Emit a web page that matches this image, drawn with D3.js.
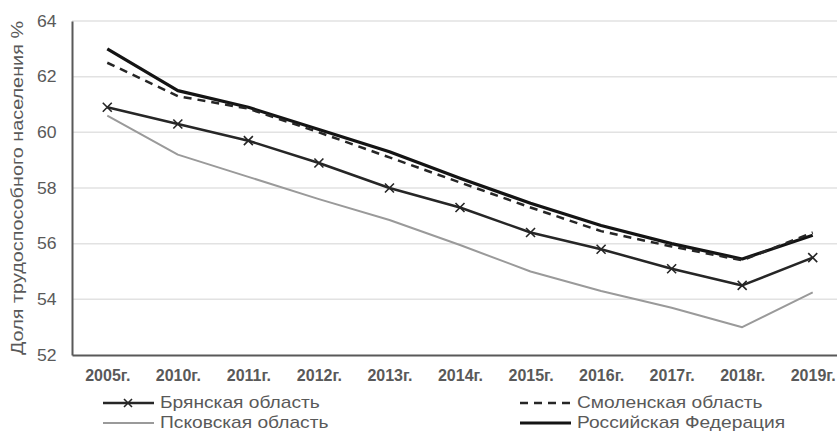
<!DOCTYPE html>
<html><head><meta charset="utf-8">
<script src="https://cdn.jsdelivr.net/npm/d3@7"></script>
<style>body{margin:0;background:#fff;overflow:hidden} svg{display:block}</style>
</head><body>
<svg id="chart" width="837" height="432"></svg>
<script>
const categories = ["2005г.","2010г.","2011г.","2012г.","2013г.","2014г.","2015г.","2016г.","2017г.","2018г.","2019г."];
const bryansk  = [60.9, 60.3, 59.7, 58.9, 58.0, 57.3, 56.4, 55.8, 55.1, 54.5, 55.5];
const smolensk = [62.5, 61.3, 60.85, 60.0, 59.1, 58.2, 57.3, 56.45, 55.9, 55.4, 56.4];
const pskov    = [60.6, 59.2, 58.4, 57.6, 56.85, 55.95, 55.0, 54.3, 53.7, 53.0, 54.25];
const russia   = [63.0, 61.5, 60.9, 60.1, 59.3, 58.35, 57.45, 56.65, 56.0, 55.45, 56.3];
const yTicks = [52, 54, 56, 58, 60, 62, 64];
const yLabel = "Доля трудоспособного населения %";
const seriesNames = ["Брянская область", "Смоленская область", "Псковская область", "Российская Федерация"];

const FONT = "'Liberation Sans', Arial, sans-serif";
const TXT = "#595959";
const svg = d3.select("#chart");

const x = d3.scalePoint().domain(categories).range([72, 848]).padding(0.5);
const y = d3.scaleLinear().domain([52, 64]).range([355, 21]);

// gridlines
svg.append("g").selectAll("line").data(yTicks.filter(t => t !== 52)).join("line")
  .attr("x1", 72).attr("x2", 848)
  .attr("y1", d => y(d)).attr("y2", d => y(d))
  .attr("stroke", "#e2e2e2").attr("stroke-width", 1.5);

// y axis
const ya = svg.append("g").attr("transform", "translate(72,0)")
  .call(d3.axisLeft(y).tickValues(yTicks).tickSize(0).tickPadding(14));
ya.select(".domain").attr("stroke", "#595959").attr("stroke-width", 2);
ya.selectAll("text").attr("font-family", FONT).attr("font-size", 16).attr("fill", TXT)
  .attr("transform", "scale(1.1,1)");

// x axis
const xa = svg.append("g").attr("transform", "translate(0,355)")
  .call(d3.axisBottom(x).tickSize(0).tickSizeOuter(0).tickPadding(15));
xa.select(".domain").attr("stroke", "#595959").attr("stroke-width", 2);
xa.selectAll("text").attr("font-family", FONT).attr("font-size", 16)
  .attr("font-weight", "bold").attr("fill", TXT);

// y title
svg.append("text")
  .attr("transform", "translate(18,188) rotate(-90) scale(1.24,1)")
  .attr("text-anchor", "middle").attr("dominant-baseline", "central")
  .attr("font-family", FONT).attr("font-size", 16).attr("fill", TXT)
  .text(yLabel);

const line = d3.line().x((d, i) => x(categories[i])).y(d => y(d));

const styles = [
  {data: bryansk,  color: "#262626", width: 2.5, dash: null, marker: true},
  {data: smolensk, color: "#262626", width: 2.5, dash: "8,6", marker: false},
  {data: pskov,    color: "#9a9a9a", width: 2,   dash: null, marker: false},
  {data: russia,   color: "#141414", width: 3.2, dash: null, marker: false}
];
const drawOrder = [2, 0, 3, 1];
drawOrder.forEach(k => {
  const s = styles[k];
  svg.append("path").datum(s.data).attr("d", line)
    .attr("fill", "none").attr("stroke", s.color).attr("stroke-width", s.width)
    .attr("stroke-dasharray", s.dash).attr("stroke-linejoin", "round");
  if (s.marker) {
    const m = 4.5;
    svg.append("g").selectAll("path").data(s.data).join("path")
      .attr("d", (d, i) => {
        const cx = x(categories[i]), cy = y(d);
        return `M${cx-m},${cy-m}L${cx+m},${cy+m}M${cx-m},${cy+m}L${cx+m},${cy-m}`;
      })
      .attr("stroke", s.color).attr("stroke-width", 1.6).attr("fill", "none");
  }
});

// legend
const legendPos = [
  {x: 103, y: 403}, {x: 520, y: 403}, {x: 103, y: 423}, {x: 520, y: 423}
];
const lg = svg.append("g");
seriesNames.forEach((name, k) => {
  const s = styles[k], p = legendPos[k];
  lg.append("line").attr("x1", p.x).attr("x2", p.x + 51).attr("y1", p.y).attr("y2", p.y)
    .attr("stroke", s.color).attr("stroke-width", s.width).attr("stroke-dasharray", s.dash);
  if (s.marker) {
    const cx = p.x + 25, m = 4;
    lg.append("path").attr("d", `M${cx-m},${p.y-m}L${cx+m},${p.y+m}M${cx-m},${p.y+m}L${cx+m},${p.y-m}`)
      .attr("stroke", s.color).attr("stroke-width", 1.6);
  }
  lg.append("text").attr("transform", `translate(${p.x + 57},${p.y}) scale(1.2,1)`)
    .attr("dominant-baseline", "central")
    .attr("font-family", FONT).attr("font-size", 16).attr("fill", TXT)
    .text(name);
});
</script>
</body></html>
